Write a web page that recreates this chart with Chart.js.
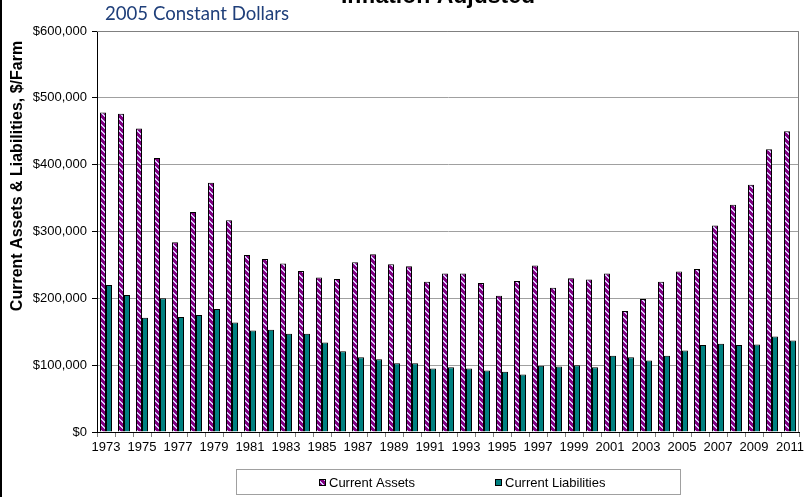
<!DOCTYPE html>
<html><head><meta charset="utf-8">
<script src="https://cdn.jsdelivr.net/npm/chart.js@4.4.0/dist/chart.umd.min.js"></script>
<style>html,body{margin:0;padding:0;background:#fff;} #wrap{width:804px;height:497px;position:relative;background:#fff;}</style>
</head><body>
<div id="wrap"><canvas id="c" width="804" height="497"></canvas></div>
<script>
const years = ['1973','1974','1975','1976','1977','1978','1979','1980','1981','1982','1983','1984','1985',
  '1986','1987','1988','1989','1990','1991','1992','1993','1994','1995','1996','1997','1998',
  '1999','2000','2001','2002','2003','2004','2005','2006','2007','2008','2009','2010','2011'];
const currentAssets = [478000,476000,454000,410000,284000,329000,373000,317000,265000,259000,252000,241000,231000,
  229000,254000,266000,251000,248000,225000,237000,237000,223000,204000,226000,249000,216000,
  230000,228000,237000,181000,199000,225000,240000,244000,309000,340000,370000,423000,450000];
const currentLiabilities = [220000,205000,171000,200000,172000,175000,184000,164000,152000,153000,147000,147000,134000,
  121000,112000,109000,103000,103000,95000,97000,95000,92000,90000,86000,99000,98000,
  100000,97000,114000,112000,107000,114000,122000,130000,132000,130000,131000,143000,137000];
const yTickValues = [0,100000,200000,300000,400000,500000,600000];
const seriesNames = ['Current Assets','Current Liabilities'];
const chartTitle = 'Inflation Adjusted';
const chartSubtitle = '2005 Constant Dollars';
const yAxisTitle = 'Current Assets & Liabilities, $/Farm';

const FONT = "'Liberation Sans', Arial, sans-serif";

function makeStripe() {
  const c = document.createElement('canvas'); c.width = 6; c.height = 6;
  const g = c.getContext('2d');
  g.fillStyle = '#800080'; g.fillRect(0, 0, 6, 6);
  g.fillStyle = '#D9CCFF';
  for (let y = 0; y < 6; y++) { for (const k of [0, 1]) g.fillRect((y + k) % 6, y, 1, 1); }
  return g.createPattern(c, 'repeat');
}
const stripe = makeStripe();
const assetColor = stripe, liabColor = '#008080';

const decor = {
  id: 'decor',
  afterDraw(chart) {
    const ctx = chart.ctx, ca = chart.chartArea;
    ctx.save();
    ctx.strokeStyle = '#808080'; ctx.lineWidth = 1;
    ctx.beginPath();
    ctx.moveTo(ca.left, ca.top + 0.5); ctx.lineTo(ca.right - 0.5, ca.top + 0.5); ctx.lineTo(ca.right - 0.5, ca.bottom);
    ctx.stroke();
    ctx.fillStyle = '#000'; ctx.fillRect(0, 0, 2, chart.height);
    ctx.fillStyle = '#000'; ctx.font = "bold 23px " + FONT; ctx.textAlign = 'center'; ctx.textBaseline = 'alphabetic';
    ctx.fillText(chartTitle, 438, 3);
    ctx.fillStyle = '#1F3F7A'; ctx.font = "18.6px Lato, " + FONT; ctx.textAlign = 'left';
    ctx.fillText(chartSubtitle, 105, 20);
    ctx.save();
    ctx.translate(18, 176); ctx.rotate(-Math.PI / 2);
    ctx.fillStyle = '#000'; ctx.font = "bold 16px " + FONT; ctx.textAlign = 'center'; ctx.textBaseline = 'middle';
    ctx.fillText(yAxisTitle, 0, 0);
    ctx.restore();
    ctx.strokeStyle = '#a0a0a0'; ctx.lineWidth = 1;
    ctx.strokeRect(236.5, 469.5, 444, 25);
    const items = [[seriesNames[0], assetColor, 319], [seriesNames[1], liabColor, 495]];
    ctx.font = "13px " + FONT; ctx.textBaseline = 'middle'; ctx.textAlign = 'left';
    for (const [name, col, x] of items) {
      ctx.fillStyle = col; ctx.fillRect(x, 479, 7, 7);
      ctx.strokeStyle = '#000'; ctx.strokeRect(x + 0.5, 479.5, 6, 6);
      ctx.fillStyle = '#000'; ctx.fillText(name, x + 10, 483);
    }
    ctx.restore();
  }
};

new Chart(document.getElementById('c'), {
  type: 'bar',
  data: {
    labels: years,
    datasets: [
      { label: seriesNames[0], data: currentAssets, backgroundColor: assetColor, borderColor: '#000', borderWidth: 1, categoryPercentage: 2 / 3, barPercentage: 1.0 },
      { label: seriesNames[1], data: currentLiabilities, backgroundColor: liabColor, borderColor: '#000', borderWidth: 1, categoryPercentage: 2 / 3, barPercentage: 1.0 }
    ]
  },
  options: {
    responsive: false, animation: false, devicePixelRatio: 1,
    layout: { padding: { left: 0, right: 5, top: 31, bottom: 45 } },
    plugins: { legend: { display: false }, tooltip: { enabled: false }, title: { display: false } },
    scales: {
      x: {
        offset: true,
        grid: { display: true, drawOnChartArea: false, drawTicks: true, tickLength: 5, tickColor: '#808080', offset: true },
        border: { display: true, color: '#000', width: 1 },
        ticks: { autoSkip: false, maxRotation: 0, minRotation: 0, padding: 3, color: '#000', font: { family: FONT, size: 13 },
          callback: (v, i) => (i % 2 === 0 ? years[i] : '') },
        afterFit: (s) => { s.height = 20; s.paddingLeft = 0; s.paddingRight = 0; }
      },
      y: {
        min: 0, max: 600000,
        afterBuildTicks: (s) => { s.ticks = yTickValues.map(v => ({ value: v })); },
        grid: { color: '#a0a0a0', tickColor: '#000', tickLength: 5, drawTicks: true },
        border: { display: true, color: '#000', width: 1 },
        ticks: { padding: 5, color: '#000', font: { family: FONT, size: 13 }, callback: v => '$' + Number(v).toLocaleString('en-US') },
        afterFit: (s) => { s.width = 97; }
      }
    }
  },
  plugins: [decor]
});
</script>
</body></html>
